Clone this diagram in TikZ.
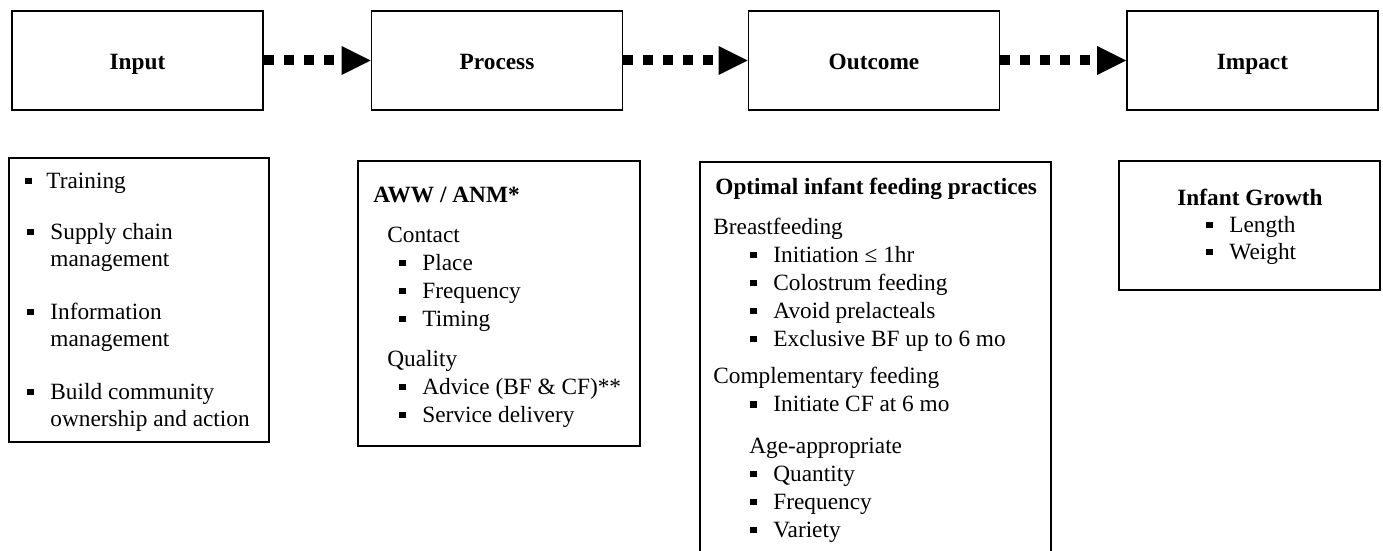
\documentclass[tikz,border=0pt]{standalone}
\usepackage{fontspec}
\setmainfont{Liberation Serif}
\usetikzlibrary{arrows.meta}

\newcommand{\sqb}{\rule[2pt]{3.2pt}{3.2pt}}
\newcommand{\itm}[1]{\makebox[11.5pt][l]{\sqb}#1}

\tikzset{
  head/.style={draw, line width=0.8pt, inner sep=0pt, minimum width=125.5pt,
    minimum height=49.5pt, text height=9.5pt, text depth=0pt,
    font=\fontsize{11.65}{14}\selectfont\bfseries},
  box/.style={draw, line width=0.8pt, inner sep=0pt, anchor=north west},
  list/.style={align=left, inner sep=0pt, anchor=north west,
    font=\fontsize{11.65}{14}\selectfont},
  flow/.style={line width=5pt, dash pattern=on 5pt off 5pt,
    -{Triangle[length=14.5pt, width=14.5pt, line width=0pt]}}
}

\begin{document}
\begin{tikzpicture}[x=0.5pt, y=-0.5pt]
    % Frame:
    \useasboundingbox (0,0) rectangle (1383,551);
    \clip (0,0) rectangle (1383,551);
    % Stages:
    \node[head] (inp) at (137.5,60.5) {Input};
    \node[head] (proc) at (497,60.5) {Process};
    \node[head] (outc) at (874,60.5) {Outcome};
    \node[head] (imp) at (1252.5,60.5) {Impact};
    \draw[flow] (inp) -- (proc);
    \draw[flow] (proc) -- (outc);
    \draw[flow] (outc) -- (imp);
    % Boxes:
    \node[box, minimum width=130pt, minimum height=142pt] (inpbox) at (8,157) {};
    \node[box, minimum width=141pt, minimum height=142.5pt] (procbox) at (357,160) {};
    \node[box, minimum width=175.5pt, minimum height=220pt] (outcbox) at (699,161) {}; % runs off the page
    \node[box, minimum width=130.5pt, minimum height=64.5pt] (impbox) at (1118,160) {};
    % Labels:
    \node[list, font=\fontsize{11.65}{13.5}\selectfont] (inptxt)
      at ([shift={(17,11)}]inpbox.north west) {\rule{0pt}{10pt}\makebox[10.5pt][l]{\sqb}Training\\[12pt]
      \hspace*{1pt}\itm{Supply chain}\\
      \hspace*{12.5pt}management\\[13pt]
      \hspace*{1pt}\itm{Information}\\
      \hspace*{12.5pt}management\\[13pt]
      \hspace*{1pt}\itm{Build community}\\
      \hspace*{12.5pt}ownership and action};
    \node[list] (proctxt) at ([shift={(16,22)}]procbox.north west) {\rule{0pt}{10pt}\textbf{AWW / ANM*}\\[6pt]
      \hspace*{7pt}Contact\\
      \hspace*{13pt}\itm{Place}\\
      \hspace*{13pt}\itm{Frequency}\\
      \hspace*{13pt}\itm{Timing}\\[6pt]
      \hspace*{7pt}Quality\\
      \hspace*{13pt}\itm{Advice (BF \& CF)**}\\
      \hspace*{13pt}\itm{Service delivery}};
    \node[list] (outctxt) at ([shift={(14,13)}]outcbox.north west) {\rule{0pt}{10pt}\hspace*{1pt}\textbf{Optimal infant feeding practices}\\[5.8pt]
      Breastfeeding\\
      \hspace*{18.5pt}\itm{Initiation ≤ 1hr}\\
      \hspace*{18.5pt}\itm{Colostrum feeding}\\
      \hspace*{18.5pt}\itm{Avoid prelacteals}\\
      \hspace*{18.5pt}\itm{Exclusive BF up to 6 mo}\\[4.8pt]
      Complementary feeding\\
      \hspace*{18.5pt}\itm{Initiate CF at 6 mo}\\[6.8pt]
      \hspace*{18pt}Age-appropriate\\
      \hspace*{18.5pt}\itm{Quantity}\\
      \hspace*{18.5pt}\itm{Frequency}\\
      \hspace*{18.5pt}\itm{Variety}};
    \node[list, font=\fontsize{11.65}{13.5}\selectfont] (imptxt)
      at ([shift={(59,25)}]impbox.north west) {\rule{0pt}{10pt}\textbf{Infant Growth}\\
      \hspace*{14.5pt}\itm{Length}\\
      \hspace*{14.5pt}\itm{Weight}};
\end{tikzpicture}
\end{document}
